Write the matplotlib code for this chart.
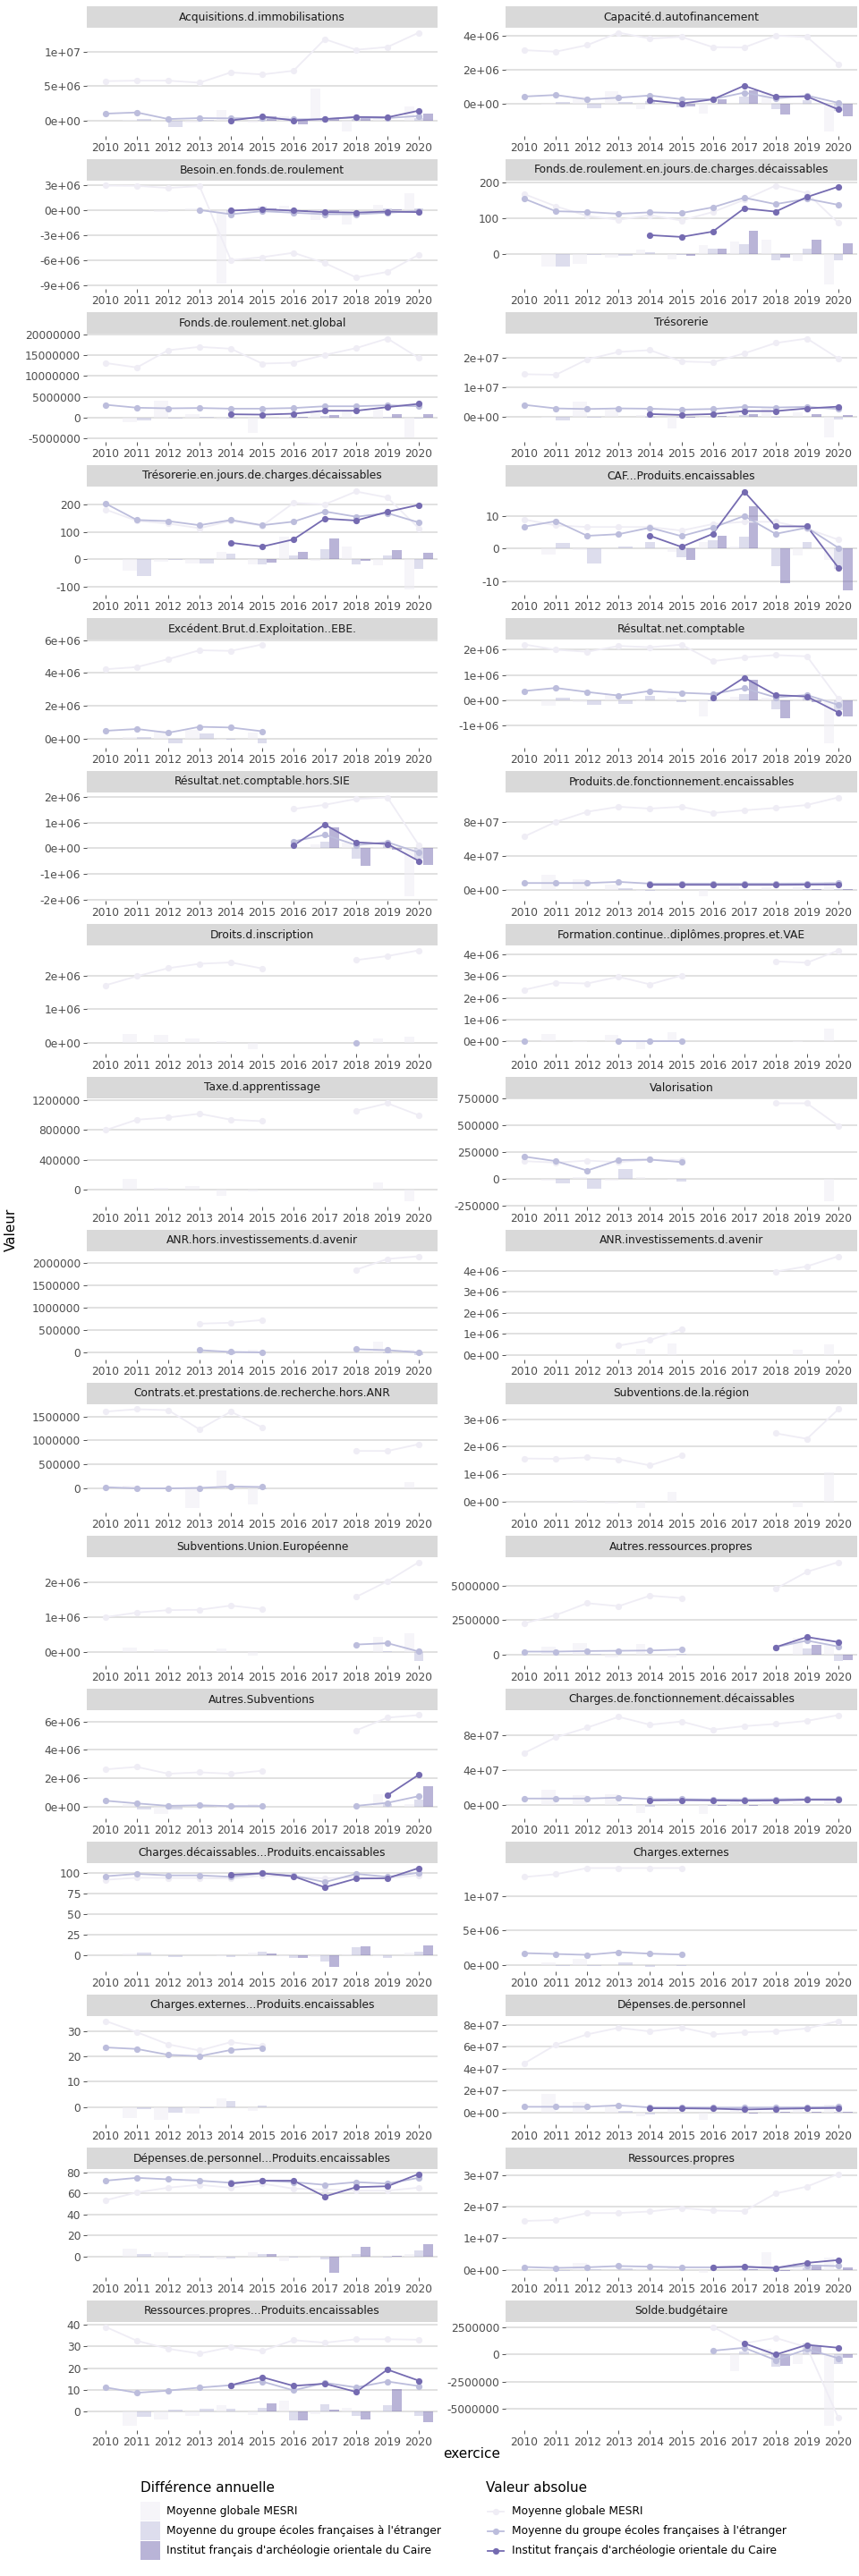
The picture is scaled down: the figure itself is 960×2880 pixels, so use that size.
import numpy as np
import matplotlib
matplotlib.use("Agg")
import matplotlib.pyplot as plt
from matplotlib.patches import Rectangle
from matplotlib.lines import Line2D

plt.rcParams['font.family'] = ['DejaVu Sans']

n = np.nan
years = [2010, 2011, 2012, 2013, 2014, 2015, 2016, 2017, 2018, 2019, 2020]
year_labels = [str(y) for y in years]

series_names = ["Moyenne globale MESRI",
                "Moyenne du groupe écoles françaises à l'étranger",
                "Institut français d'archéologie orientale du Caire"]
series_colors = ["#efedf5", "#bcbddc", "#756bb1"]

facet_names = [
    "Acquisitions.d.immobilisations", "Capacité.d.autofinancement",
    "Besoin.en.fonds.de.roulement", "Fonds.de.roulement.en.jours.de.charges.décaissables",
    "Fonds.de.roulement.net.global", "Trésorerie",
    "Trésorerie.en.jours.de.charges.décaissables", "CAF...Produits.encaissables",
    "Excédent.Brut.d.Exploitation..EBE.", "Résultat.net.comptable",
    "Résultat.net.comptable.hors.SIE", "Produits.de.fonctionnement.encaissables",
    "Droits.d.inscription", "Formation.continue..diplômes.propres.et.VAE",
    "Taxe.d.apprentissage", "Valorisation",
    "ANR.hors.investissements.d.avenir", "ANR.investissements.d.avenir",
    "Contrats.et.prestations.de.recherche.hors.ANR", "Subventions.de.la.région",
    "Subventions.Union.Européenne", "Autres.ressources.propres",
    "Autres.Subventions", "Charges.de.fonctionnement.décaissables",
    "Charges.décaissables...Produits.encaissables", "Charges.externes",
    "Charges.externes...Produits.encaissables", "Dépenses.de.personnel",
    "Dépenses.de.personnel...Produits.encaissables", "Ressources.propres",
    "Ressources.propres...Produits.encaissables", "Solde.budgétaire",
]

mesri_values = [
    [5.73e6, 5.8e6, 5.8e6, 5.5e6, 7.0e6, 6.7e6, 7.24e6, 11.85e6, 10.3e6, 10.7e6, 12.8e6],
    [3.17e6, 3.08e6, 3.47e6, 4.21e6, 3.86e6, 3.96e6, 3.35e6, 3.33e6, 4.03e6, 3.96e6, 2.33e6],
    [2.93e6, 2.9e6, 2.65e6, 2.86e6, -6.0e6, -5.65e6, -5.12e6, -6.35e6, -8.08e6, -7.41e6, -5.36e6],
    [168, 134, 107, 96, 109, 94, 118, 152, 192, 171, 87],
    [13.07e6, 12.0e6, 16.14e6, 16.93e6, 16.5e6, 12.93e6, 13.14e6, 15.0e6, 16.64e6, 18.93e6, 14.29e6],
    [14.4e6, 14.2e6, 19.4e6, 21.9e6, 22.5e6, 18.7e6, 18.4e6, 21.4e6, 24.9e6, 26.4e6, 19.7e6],
    [181, 140, 130, 113, 140, 122, 205, 200, 247, 225, 113],
    [8.9, 7.1, 6.6, 6.6, 6.6, 5.5, 7.5, 8.2, 8.2, 6.1, 2.7],
    [4.23e6, 4.36e6, 4.84e6, 5.38e6, 5.34e6, 5.73e6, n, n, n, n, n],
    [2.21e6, 2.0e6, 1.92e6, 2.15e6, 2.1e6, 2.2e6, 1.55e6, 1.7e6, 1.79e6, 1.74e6, 0.06e6],
    [n, n, n, n, n, n, 1.53e6, 1.69e6, 1.92e6, 1.98e6, 0.12e6],
    [6.28e7, 8.0e7, 9.2e7, 9.79e7, 9.58e7, 9.79e7, 9.05e7, 9.37e7, 9.65e7, 10.0e7, 10.9e7],
    [1.71e6, 1.98e6, 2.22e6, 2.35e6, 2.39e6, 2.21e6, n, n, 2.46e6, 2.58e6, 2.75e6],
    [2.37e6, 2.7e6, 2.66e6, 2.97e6, 2.62e6, 3.03e6, n, n, 3.68e6, 3.62e6, 4.19e6],
    [0.80e6, 0.94e6, 0.97e6, 1.02e6, 0.94e6, 0.92e6, n, n, 1.06e6, 1.16e6, 1.0e6],
    [168e3, 154e3, 173e3, 159e3, 182e3, 176e3, n, n, 707e3, 707e3, 497e3],
    [n, n, n, 0.64e6, 0.66e6, 0.72e6, n, n, 1.84e6, 2.08e6, 2.14e6],
    [n, n, n, 0.43e6, 0.69e6, 1.21e6, n, n, 3.96e6, 4.21e6, 4.69e6],
    [1.6e6, 1.65e6, 1.63e6, 1.23e6, 1.6e6, 1.27e6, n, n, 0.78e6, 0.78e6, 0.92e6],
    [1.57e6, 1.56e6, 1.61e6, 1.54e6, 1.32e6, 1.68e6, n, n, 2.49e6, 2.29e6, 3.37e6],
    [1.01e6, 1.14e6, 1.21e6, 1.22e6, 1.34e6, 1.24e6, n, n, 1.59e6, 2.04e6, 2.59e6],
    [2.28e6, 2.87e6, 3.74e6, 3.52e6, 4.28e6, 4.11e6, n, n, 4.78e6, 6.02e6, 6.72e6],
    [2.63e6, 2.8e6, 2.32e6, 2.42e6, 2.32e6, 2.53e6, n, n, 5.37e6, 6.27e6, 6.45e6],
    [5.98e7, 7.76e7, 8.87e7, 10.1e7, 9.2e7, 9.57e7, 8.63e7, 9.04e7, 9.29e7, 9.64e7, 10.3e7],
    [92.1, 94.6, 94.3, 94.3, 93.6, 97.1, 95.7, 93.9, 95.4, 93.9, 97.5],
    [1.28e7, 1.32e7, 1.41e7, 1.41e7, 1.41e7, 1.41e7, n, n, n, n, n],
    [33.9, 29.5, 24.7, 22.3, 25.6, 24.1, n, n, n, n, n],
    [4.49e7, 6.18e7, 7.13e7, 7.73e7, 7.4e7, 7.76e7, 7.13e7, 7.32e7, 7.4e7, 7.67e7, 8.35e7],
    [53.6, 61.1, 65.6, 68.3, 65.6, 69.5, 64.7, 63.9, 62.8, 62.8, 65.6],
    [1.55e7, 1.58e7, 1.8e7, 1.8e7, 1.85e7, 1.96e7, 1.88e7, 1.86e7, 2.42e7, 2.64e7, 3.04e7],
    [39.0, 32.6, 28.9, 26.7, 29.7, 27.9, 32.9, 31.7, 33.3, 33.3, 33.1],
    [n, n, n, n, n, n, 2.55e6, 1.04e6, 1.54e6, 0.68e6, -5.82e6],
]

group_values = [
    [0.99e6, 1.16e6, 0.2e6, 0.34e6, 0.3e6, 0.35e6, 0.15e6, 0.2e6, 0.43e6, 0.34e6, 0.65e6],
    [0.42e6, 0.51e6, 0.25e6, 0.35e6, 0.48e6, 0.26e6, 0.26e6, 0.65e6, 0.3e6, 0.48e6, 0.04e6],
    [n, n, n, 0.0, -0.5e6, -0.14e6, -0.32e6, -0.5e6, -0.5e6, -0.32e6, -0.1e6],
    [155, 120, 118, 113, 117, 115, 131, 158, 140, 155, 138],
    [3.07e6, 2.36e6, 2.21e6, 2.29e6, 2.14e6, 2.14e6, 2.29e6, 2.71e6, 2.71e6, 2.93e6, 2.71e6],
    [4.1e6, 2.9e6, 2.7e6, 2.9e6, 2.8e6, 2.5e6, 2.7e6, 3.4e6, 3.2e6, 3.4e6, 2.7e6],
    [203, 143, 139, 124, 143, 124, 137, 174, 155, 168, 134],
    [6.7, 8.4, 3.9, 4.4, 6.4, 3.8, 6.4, 10.0, 4.5, 6.4, 0.2],
    [0.5e6, 0.61e6, 0.38e6, 0.74e6, 0.7e6, 0.47e6, n, n, n, n, n],
    [0.37e6, 0.49e6, 0.33e6, 0.19e6, 0.37e6, 0.3e6, 0.25e6, 0.48e6, 0.12e6, 0.21e6, -0.18e6],
    [n, n, n, n, n, n, 0.26e6, 0.52e6, 0.12e6, 0.23e6, -0.17e6],
    [0.77e7, 0.77e7, 0.77e7, 0.91e7, 0.7e7, 0.7e7, 0.7e7, 0.7e7, 0.7e7, 0.72e7, 0.75e7],
    [n, n, n, n, n, n, n, n, 0.0, n, n],
    [0.0, n, n, 0.0, 0.0, 0.0, n, n, n, n, n],
    [n, n, n, n, n, n, n, n, n, n, n],
    [210e3, 168e3, 80e3, 178e3, 182e3, 159e3, n, n, n, n, n],
    [n, n, n, 0.05e6, 0.01e6, 0.0, n, n, 0.07e6, 0.05e6, 0.0],
    [n, n, n, n, n, n, n, n, n, n, n],
    [0.025e6, 0.0, 0.0, 0.01e6, 0.04e6, 0.03e6, n, n, n, n, n],
    [n, n, n, n, n, n, n, n, n, n, n],
    [n, n, n, n, n, n, n, n, 0.22e6, 0.26e6, 0.02e6],
    [0.22e6, 0.22e6, 0.26e6, 0.28e6, 0.3e6, 0.37e6, n, n, 0.54e6, 1.02e6, 0.59e6],
    [0.42e6, 0.23e6, 0.06e6, 0.1e6, 0.04e6, 0.04e6, n, n, 0.06e6, 0.27e6, 0.74e6],
    [0.77e7, 0.77e7, 0.77e7, 0.87e7, 0.7e7, 0.7e7, 0.66e7, 0.66e7, 0.68e7, 0.7e7, 0.7e7],
    [96.4, 99.3, 97.5, 97.5, 95.7, 100.0, 97.1, 89.3, 99.3, 95.7, 100.7],
    [1.73e6, 1.6e6, 1.47e6, 1.86e6, 1.65e6, 1.52e6, n, n, n, n, n],
    [23.5, 22.9, 20.6, 20.1, 22.5, 23.3, n, n, n, n, n],
    [0.52e7, 0.52e7, 0.52e7, 0.65e7, 0.46e7, 0.46e7, 0.45e7, 0.45e7, 0.46e7, 0.47e7, 0.52e7],
    [72.3, 75.0, 73.6, 72.3, 70.3, 72.3, 70.9, 68.3, 70.9, 69.5, 75.0],
    [0.09e7, 0.06e7, 0.08e7, 0.12e7, 0.1e7, 0.08e7, 0.08e7, 0.09e7, 0.06e7, 0.14e7, 0.12e7],
    [11.1, 8.6, 9.6, 11.0, 12.1, 13.8, 9.7, 13.2, 11.1, 13.8, 11.7],
    [n, n, n, n, n, n, 0.36e6, 0.63e6, -0.5e6, 0.5e6, -0.33e6],
]

institute_values = [
    [n, n, n, n, 0.0, 0.56e6, 0.0, 0.2e6, 0.5e6, 0.45e6, 1.42e6],
    [n, n, n, n, 0.19e6, 0.0, 0.25e6, 1.06e6, 0.42e6, 0.42e6, -0.35e6],
    [n, n, n, n, -0.07e6, 0.1e6, -0.07e6, -0.25e6, -0.3e6, -0.18e6, -0.25e6],
    [n, n, n, n, 53, 48, 63, 128, 119, 160, 189],
    [n, n, n, n, 0.79e6, 0.71e6, 0.93e6, 1.64e6, 1.64e6, 2.5e6, 3.29e6],
    [n, n, n, n, 1.0e6, 0.7e6, 1.0e6, 2.0e6, 2.0e6, 2.9e6, 3.5e6],
    [n, n, n, n, 60, 46, 72, 148, 141, 173, 198],
    [n, n, n, n, 3.9, 0.5, 4.5, 17.5, 6.8, 6.8, -5.9],
    [n, n, n, n, n, n, n, n, n, n, n],
    [n, n, n, n, n, n, 0.1e6, 0.9e6, 0.21e6, 0.15e6, -0.48e6],
    [n, n, n, n, n, n, 0.1e6, 0.92e6, 0.23e6, 0.16e6, -0.5e6],
    [n, n, n, n, 0.56e7, 0.56e7, 0.56e7, 0.56e7, 0.56e7, 0.58e7, 0.6e7],
    [n, n, n, n, n, n, n, n, n, n, n],
    [n, n, n, n, n, n, n, n, n, n, n],
    [n, n, n, n, n, n, n, n, n, n, n],
    [n, n, n, n, n, n, n, n, n, n, n],
    [n, n, n, n, n, n, n, n, n, n, n],
    [n, n, n, n, n, n, n, n, n, n, n],
    [n, n, n, n, n, n, n, n, n, n, n],
    [n, n, n, n, n, n, n, n, n, n, n],
    [n, n, n, n, n, n, n, n, n, n, n],
    [n, n, n, n, n, n, n, n, 0.54e6, 1.28e6, 0.91e6],
    [n, n, n, n, n, n, n, n, n, 0.8e6, 2.25e6],
    [n, n, n, n, 0.56e7, 0.59e7, 0.56e7, 0.52e7, 0.56e7, 0.63e7, 0.63e7],
    [n, n, n, n, 98.2, 100.0, 96.4, 82.9, 93.6, 93.9, 106.4],
    [n, n, n, n, n, n, n, n, n, n, n],
    [n, n, n, n, n, n, n, n, n, n, n],
    [n, n, n, n, 0.38e7, 0.38e7, 0.35e7, 0.27e7, 0.33e7, 0.38e7, 0.41e7],
    [n, n, n, n, 69.5, 72.3, 72.3, 57.2, 66.1, 67.0, 78.7],
    [n, n, n, n, n, n, 0.08e7, 0.1e7, 0.06e7, 0.22e7, 0.31e7],
    [n, n, n, n, 12.1, 15.8, 11.8, 12.8, 9.0, 19.3, 14.2],
    [n, n, n, n, n, n, n, 1.04e6, 0.0, 0.9e6, 0.63e6],
]

y_tick_labels = [
    ["0e+00", "5e+06", "1e+07"], ["0e+00", "2e+06", "4e+06"],
    ["-9e+06", "-6e+06", "-3e+06", "0e+00", "3e+06"], ["0", "100", "200"],
    ["-5000000", "0", "5000000", "10000000", "15000000", "20000000"], ["0e+00", "1e+07", "2e+07"],
    ["-100", "0", "100", "200"], ["-10", "0", "10"],
    ["0e+00", "2e+06", "4e+06", "6e+06"], ["-1e+06", "0e+00", "1e+06", "2e+06"],
    ["-2e+06", "-1e+06", "0e+00", "1e+06", "2e+06"], ["0e+00", "4e+07", "8e+07"],
    ["0e+00", "1e+06", "2e+06"], ["0e+00", "1e+06", "2e+06", "3e+06", "4e+06"],
    ["0", "400000", "800000", "1200000"], ["-250000", "0", "250000", "500000", "750000"],
    ["0", "500000", "1000000", "1500000", "2000000"], ["0e+00", "1e+06", "2e+06", "3e+06", "4e+06"],
    ["0", "500000", "1000000", "1500000"], ["0e+00", "1e+06", "2e+06", "3e+06"],
    ["0e+00", "1e+06", "2e+06"], ["0", "2500000", "5000000"],
    ["0e+00", "2e+06", "4e+06", "6e+06"], ["0e+00", "4e+07", "8e+07"],
    ["0", "25", "50", "75", "100"], ["0e+00", "5e+06", "1e+07"],
    ["0", "10", "20", "30"], ["0e+00", "2e+07", "4e+07", "6e+07", "8e+07"],
    ["0", "20", "40", "60", "80"], ["0e+00", "1e+07", "2e+07", "3e+07"],
    ["0", "10", "20", "30", "40"], ["-5000000", "-2500000", "0", "2500000"],
]

# ---------------- layout (pixels) ----------------
W, H = 960, 2880
fig = plt.figure(figsize=(W / 100, H / 100), dpi=100)
fig.patch.set_facecolor("white")
col_x = [(97, 489), (565, 958)]
row_top0, row_pitch, strip_h, panel_h = 7, 171, 24, 121

tables = [mesri_values, group_values, institute_values]
# first year in which each series has rows (used by ggplot dodge)
first_idx = []
for tab in tables:
    arr = np.array(tab, dtype=float)
    cols = np.where(~np.isnan(arr).all(axis=0))[0]
    first_idx.append(cols.min())

xs = np.arange(len(years))
axis_text_col = "#4d4d4d"

for i, name in enumerate(facet_names):
    r, c = divmod(i, 2)
    x0, x1 = col_x[c]
    st = row_top0 + r * row_pitch
    pt = st + strip_h
    pb = pt + panel_h
    ax = fig.add_axes([x0 / W, 1 - pb / H, (x1 - x0) / W, panel_h / H])
    sax = fig.add_axes([x0 / W, 1 - pt / H, (x1 - x0) / W, strip_h / H])
    sax.set_facecolor("#d9d9d9")
    sax.set_xticks([]); sax.set_yticks([])
    for sp in sax.spines.values():
        sp.set_visible(False)
    sax.text(0.5, 0.5, name, ha="center", va="center", fontsize=8.8,
             color="#1a1a1a", transform=sax.transAxes)

    vals = [np.array(t[i], dtype=float) for t in tables]
    diffs = [np.concatenate([[np.nan], v[1:] - v[:-1]]) for v in vals]

    # bars (dodged)
    for t in range(1, len(years)):
        present = [s for s in range(3) if t >= first_idx[s]]
        k = len(present)
        w = 0.9 / k
        for j, s in enumerate(present):
            d = diffs[s][t]
            if np.isnan(d):
                continue
            cx = t - 0.45 + (j + 0.5) * w
            ax.bar(cx, d, width=w, color=series_colors[s], alpha=0.5,
                   linewidth=0, zorder=2)

    for s in range(3):
        ax.plot(xs, vals[s], color=series_colors[s], lw=1.3, zorder=3 + s * 0.1,
                solid_capstyle="butt")
    for s in range(3):
        ax.plot(xs, vals[s], linestyle="none", marker="o", ms=5.2,
                color=series_colors[s], markeredgewidth=0, zorder=4 + s * 0.1)

    allv = np.concatenate(vals + diffs + [np.array([0.0])])
    lo, hi = np.nanmin(allv), np.nanmax(allv)
    pad = 0.05 * (hi - lo)
    ax.set_ylim(lo - pad, hi + pad)
    ax.set_xlim(-0.6, len(years) - 1 + 0.6)

    labs = y_tick_labels[i]
    ax.set_yticks([float(l) for l in labs])
    ax.set_yticklabels(labs)
    ax.set_xticks(xs)
    ax.set_xticklabels(year_labels)
    ax.tick_params(axis="both", length=2.75, width=0.6, color="#333333",
                   labelsize=8.8, labelcolor=axis_text_col, pad=2.2)
    for sp in ax.spines.values():
        sp.set_visible(False)
    ax.set_axisbelow(True)
    ax.yaxis.grid(True, color="#d9d9d9", lw=1.1)
    ax.xaxis.grid(False)
    ax.set_facecolor("white")

# axis titles
fig.text(12 / W, 1 - 1375 / H, "Valeur", rotation=90, ha="center", va="center",
         fontsize=11, color="black")
fig.text(527 / W, 1 - 2743 / H, "exercice", ha="center", va="center",
         fontsize=11, color="black")

# ---------------- legends ----------------
key_h = 22
def fig_rect(ax_px, ay_px, w_px, h_px, **kw):
    fig.patches.append(Rectangle((ax_px / W, 1 - (ay_px + h_px) / H), w_px / W, h_px / H,
                                 transform=fig.transFigure, figure=fig, **kw))

lx, ly = 157, 2782
fig.text(lx / W, 1 - ly / H, "Différence annuelle", ha="left", va="center", fontsize=11)
for s in range(3):
    ky = 2797 + s * key_h
    fig_rect(lx, ky, 22, 21, facecolor=series_colors[s], alpha=0.5, edgecolor="none")
    fig.text((lx + 29) / W, 1 - (ky + 11) / H, series_names[s], ha="left", va="center",
             fontsize=8.8)

rx = 543
fig.text(rx / W, 1 - ly / H, "Valeur absolue", ha="left", va="center", fontsize=11)
for s in range(3):
    ky = 2797 + s * key_h + 11
    yy = 1 - ky / H
    fig.lines.append(Line2D([(rx + 2) / W, (rx + 20) / W], [yy, yy], transform=fig.transFigure,
                            color=series_colors[s], lw=1.3))
    fig.lines.append(Line2D([(rx + 11) / W], [yy], transform=fig.transFigure, marker="o",
                            ms=5.2, color=series_colors[s], markeredgewidth=0, linestyle="none"))
    fig.text((rx + 29) / W, yy, series_names[s], ha="left", va="center", fontsize=8.8)

fig.savefig("out.png", dpi=100, facecolor="white")
